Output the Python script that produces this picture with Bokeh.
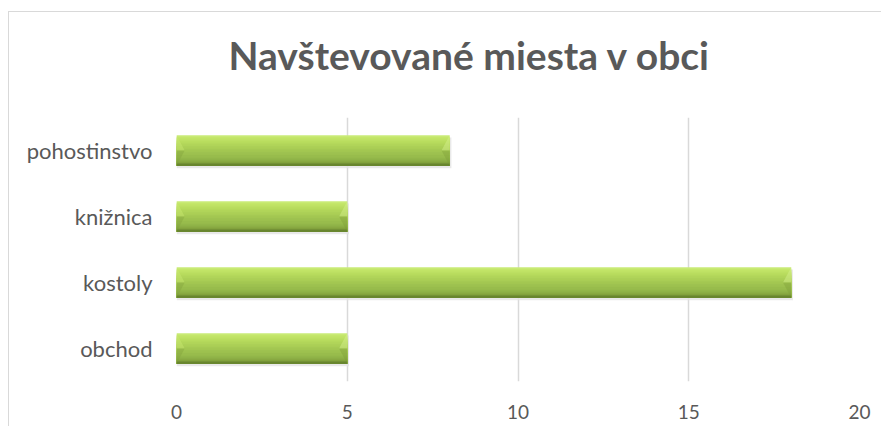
import numpy as np
from bokeh.plotting import figure
from bokeh.models import FixedTicker, Title
from bokeh.embed import file_html
from bokeh.resources import INLINE

# ---- data ----
categories = ["obchod", "kostoly", "knižnica", "pohostinstvo"]
values = [5, 18, 5, 8]
x_ticks = [0, 5, 10, 15, 20]
title_text = "Navštevované miesta v obci"

# ---- styling ----
TEXT = "#595959"
GRID = "#d9d9d9"
BAR_H = 0.465

ypos = np.arange(len(categories)) + 0.5
vals = np.array(values, dtype=float)

p = figure(width=873, height=415, output_backend="svg", toolbar_location=None,
           x_range=(0, 20), y_range=(0, 4),
           min_border_left=167, min_border_right=23, min_border_top=105, min_border_bottom=46)
p.margin = (11, 0, 0, 8)
p.styles = {"border-left": "1px solid #d9d9d9", "border-top": "1px solid #d9d9d9"}
p.outline_line_color = None
p.background_fill_color = "white"
p.border_fill_color = "white"

# gridlines
p.xgrid.ticker = FixedTicker(ticks=x_ticks)
p.xgrid.grid_line_color = GRID
p.xgrid.grid_line_width = 1.5
p.ygrid.grid_line_color = None

# shadow
p.hbar(y=ypos - 0.035, left=0, right=vals + 0.05, height=BAR_H, color="#e3e3e3", alpha=0.8, line_color=None)

# gradient bars via stacked quads (each from its top down to the bar bottom)
stops_f = [0.0, 0.05, 0.25, 0.5, 0.75, 0.88, 0.94, 1.0]
stops_c = ["#cfee86", "#c6e86c", "#b6da5c", "#a3c752", "#94b84a", "#86a641", "#6e8c32", "#5f7a2a"]
def hex2rgb(h):
    return np.array([int(h[i:i + 2], 16) for i in (1, 3, 5)], dtype=float)
rgbs = np.array([hex2rgb(c) for c in stops_c])
N = 20
bottoms = ypos - BAR_H / 2
for k in range(N):
    f = (k + 0.5) / N
    col = [np.interp(f, stops_f, rgbs[:, j]) for j in range(3)]
    colhex = "#%02x%02x%02x" % tuple(int(round(c)) for c in col)
    tops = ypos + BAR_H / 2 - (k / N) * BAR_H
    p.quad(left=0, right=vals, top=tops, bottom=bottoms, color=colhex, line_color=None)

# bevel ends
bev = 0.24
half = BAR_H / 2
lux, luy, llx, lly, rux, ruy, rlx, rly = [], [], [], [], [], [], [], []
for yc, v in zip(ypos, vals):
    lux.append([0, bev, 0]); luy.append([yc + half, yc, yc])
    llx.append([0, bev, 0]); lly.append([yc, yc, yc - half])
    rux.append([v, v - bev, v]); ruy.append([yc + half, yc, yc])
    rlx.append([v, v - bev, v]); rly.append([yc, yc, yc - half])
p.patches(lux, luy, color="#c9e872", alpha=0.45, line_color=None)
p.patches(llx, lly, color="#7f9f3a", alpha=0.35, line_color=None)
p.patches(rux, ruy, color="#d6f290", alpha=0.45, line_color=None)
p.patches(rlx, rly, color="#7a9a36", alpha=0.35, line_color=None)

# axes
p.xaxis.ticker = FixedTicker(ticks=x_ticks)
p.xaxis.axis_line_color = None
p.xaxis.major_tick_line_color = None
p.xaxis.minor_tick_line_color = None
p.xaxis.major_label_text_font = "Lato"
p.xaxis.major_label_text_font_size = "19px"
p.xaxis.major_label_text_color = TEXT
p.xaxis.major_label_standoff = 17

p.yaxis.ticker = FixedTicker(ticks=list(ypos))
p.yaxis.major_label_overrides = {float(y): c for y, c in zip(ypos, categories)}
p.yaxis.axis_line_color = None
p.yaxis.major_tick_line_color = None
p.yaxis.minor_tick_line_color = None
p.yaxis.major_label_text_font = "Lato"
p.yaxis.major_label_text_font_size = "22px"
p.yaxis.major_label_text_color = TEXT
p.yaxis.major_label_standoff = 18

# spacer panel between frame and title
spacer = Title(text=" ", text_font_size="1px", standoff=32)
p.add_layout(spacer, "above")

# real title (outermost)
p.title.text = title_text
p.title.align = "left"
p.title.offset = 52
p.title.text_font = "Lato"
p.title.text_font_size = "39px"
p.title.text_font_style = "bold"
p.title.text_color = TEXT
p.title.standoff = 10

open("out.html", "w").write(file_html(p, INLINE))
